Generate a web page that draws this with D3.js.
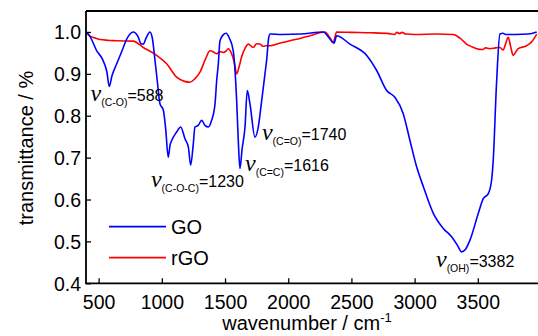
<!DOCTYPE html>
<html><head><meta charset="utf-8">
<script src="https://cdn.jsdelivr.net/npm/d3@7"></script>
<style>body{margin:0;background:#fff}svg{display:block}</style>
</head><body>
<script>
// ---- data ----
const goWavenumber = [400,430,485,530,565,584,605,643,685,722,774,810,835,853,875,906,925,946,965,985,1012,1030,1051,1065,1078,1117,1149,1183,1210,1228,1249,1262,1288,1315,1341,1368,1394,1421,1434,1447,1460,1485,1508,1535,1565,1592,1605,1618,1635,1658,1676,1697,1737,1763,1790,1816,1829,1845,1856,1950,2100,2277,2330,2362,2383,2488,2621,2700,2779,2844,2910,2963,3016,3070,3148,3227,3293,3340,3372,3400,3438,3504,3543,3583,3609,3622,3648,3675,3700,3720,3800,3900,3966];
const goTransmittance = [1.0,0.99,0.955,0.935,0.905,0.870,0.895,0.924,0.955,0.983,1.0,0.99,0.972,0.971,0.985,1.0,0.985,0.932,0.88,0.829,0.813,0.77,0.701,0.73,0.741,0.761,0.773,0.745,0.725,0.682,0.733,0.773,0.777,0.789,0.777,0.773,0.789,0.829,0.884,0.924,0.979,0.993,0.997,0.985,0.955,0.836,0.74,0.674,0.72,0.773,0.860,0.829,0.749,0.773,0.836,0.900,0.932,0.985,0.995,0.994,0.995,1.0,0.983,0.973,0.991,0.971,0.944,0.908,0.860,0.844,0.805,0.741,0.678,0.630,0.567,0.531,0.511,0.49,0.475,0.48,0.503,0.567,0.602,0.614,0.646,0.694,0.876,0.995,0.997,0.994,0.994,0.995,1.0];
const rgoWavenumber = [400,430,458,511,643,774,853,959,1038,1117,1180,1222,1260,1302,1345,1381,1410,1434,1460,1486,1510,1526,1552,1575,1592,1610,1631,1660,1684,1724,1750,1776,1800,1829,1856,1930,2014,2100,2172,2290,2330,2356,2383,2500,2650,2800,2840,2860,2880,2900,2930,3000,3174,3306,3360,3411,3450,3490,3540,3560,3596,3640,3675,3701,3720,3741,3760,3780,3800,3820,3886,3930,3966];
const rgoTransmittance = [1.0,0.99,0.987,0.982,0.979,0.978,0.963,0.944,0.924,0.892,0.882,0.880,0.888,0.904,0.935,0.955,0.952,0.948,0.953,0.951,0.955,0.960,0.948,0.925,0.900,0.915,0.940,0.962,0.971,0.963,0.972,0.971,0.966,0.967,0.967,0.973,0.979,0.985,0.991,1.0,0.986,0.975,1.0,0.999,0.998,0.996,0.994,0.999,0.996,0.999,0.995,0.994,0.995,0.994,0.985,0.971,0.965,0.960,0.958,0.962,0.960,0.962,0.963,0.957,0.972,0.987,0.965,0.944,0.952,0.960,0.967,0.978,0.995];
const seriesNames = ["GO","rGO"];
const xTicks = [500,1000,1500,2000,2500,3000,3500];
const yTicks = [0.4,0.5,0.6,0.7,0.8,0.9,1.0];
const peakGroups = ["C-O","C-O-C","C=C","C=O","OH"];
const peakValues = [588,1230,1616,1740,3382];

// ---- layout ----
const W = 538, H = 336;
const M = {left:86, top:11, right:538, bottom:283.3};
const labelAnchors = [[436,0.834],[914,0.629],[1658,0.667],[1792,0.741],[3169,0.439]];
const colors = ["#0000ff","#ff0000"];

const svg = d3.select("body").append("svg").attr("width",W).attr("height",H);
const x = d3.scaleLinear().domain([400,4000]).range([M.left, 541]);
const y = d3.scaleLinear().domain([0.4,1.05]).range([M.bottom, M.top]);

svg.append("defs").append("clipPath").attr("id","clip")
  .append("rect").attr("x",M.left).attr("y",M.top).attr("width",M.right-M.left).attr("height",M.bottom-M.top);

const line = d3.line().x(d=>x(d[0])).y(d=>y(d[1])).curve(d3.curveMonotoneX);
const series = [d3.zip(goWavenumber,goTransmittance), d3.zip(rgoWavenumber,rgoTransmittance)];
const g = svg.append("g").attr("clip-path","url(#clip)");
[1,0].forEach(i=>{
  g.append("path").datum(series[i]).attr("d",line).attr("fill","none")
   .attr("stroke",colors[i]).attr("stroke-width",1.6).attr("stroke-linejoin","round");
});

// axes
const font = "'Liberation Sans', Arial, sans-serif";
const xAxis = svg.append("g").attr("transform",`translate(0,${M.bottom})`)
  .call(d3.axisBottom(x).tickValues(xTicks).tickFormat(d3.format("d")).tickSizeInner(-5).tickSizeOuter(0).tickPadding(12));
const yAxis = svg.append("g").attr("transform",`translate(${M.left},0)`)
  .call(d3.axisLeft(y).tickValues(yTicks).tickFormat(d3.format(".1f")).tickSizeInner(-5).tickSizeOuter(0).tickPadding(5));
[xAxis,yAxis].forEach(a=>{
  a.select(".domain").remove();
  a.selectAll(".tick line").attr("stroke","#000").attr("stroke-width",1.3);
  a.selectAll("text").attr("font-family",font).attr("font-size",19.5).attr("fill","#000");
});
yAxis.selectAll("text").attr("dy","0.35em");
// frame lines (left, bottom, top)
svg.append("path").attr("d",`M${M.left},${M.top}V${M.bottom}H${M.right}`).attr("fill","none").attr("stroke","#000").attr("stroke-width",1.8);
svg.append("line").attr("x1",M.left).attr("x2",M.right).attr("y1",M.top).attr("y2",M.top).attr("stroke","#000").attr("stroke-width",1.8);

// axis titles
const xt = svg.append("text").attr("x",307).attr("y",330).attr("text-anchor","middle")
  .attr("font-family",font).attr("font-size",20);
xt.append("tspan").text("wavenumber / cm");
xt.append("tspan").attr("dy",-8).attr("font-size",13).text("-1");
svg.append("text").attr("transform","translate(33,148) rotate(-90)").attr("text-anchor","middle")
  .attr("font-family",font).attr("font-size",20).text("transmittance / %");

// legend
seriesNames.forEach((n,i)=>{
  const ly = 226.7 + i*31;
  svg.append("line").attr("x1",109).attr("x2",166).attr("y1",ly).attr("y2",ly).attr("stroke",colors[i]).attr("stroke-width",1.8);
  svg.append("text").attr("x",171).attr("y",ly+7.5).attr("font-family",font).attr("font-size",20).text(n);
});

// peak annotations
peakGroups.forEach((p,i)=>{
  const t = svg.append("text").attr("x",x(labelAnchors[i][0])).attr("y",y(labelAnchors[i][1])).attr("font-family",font).attr("fill","#000");
  t.append("tspan").attr("font-family","'Liberation Serif','Times New Roman',serif").attr("font-style","italic").attr("font-size",24).text("\u03BD");
  t.append("tspan").attr("font-size",10.5).attr("dy",5).text("("+p+")");
  t.append("tspan").attr("font-size",16).attr("dy",-5).text("="+peakValues[i]);
});
</script>
</body></html>
